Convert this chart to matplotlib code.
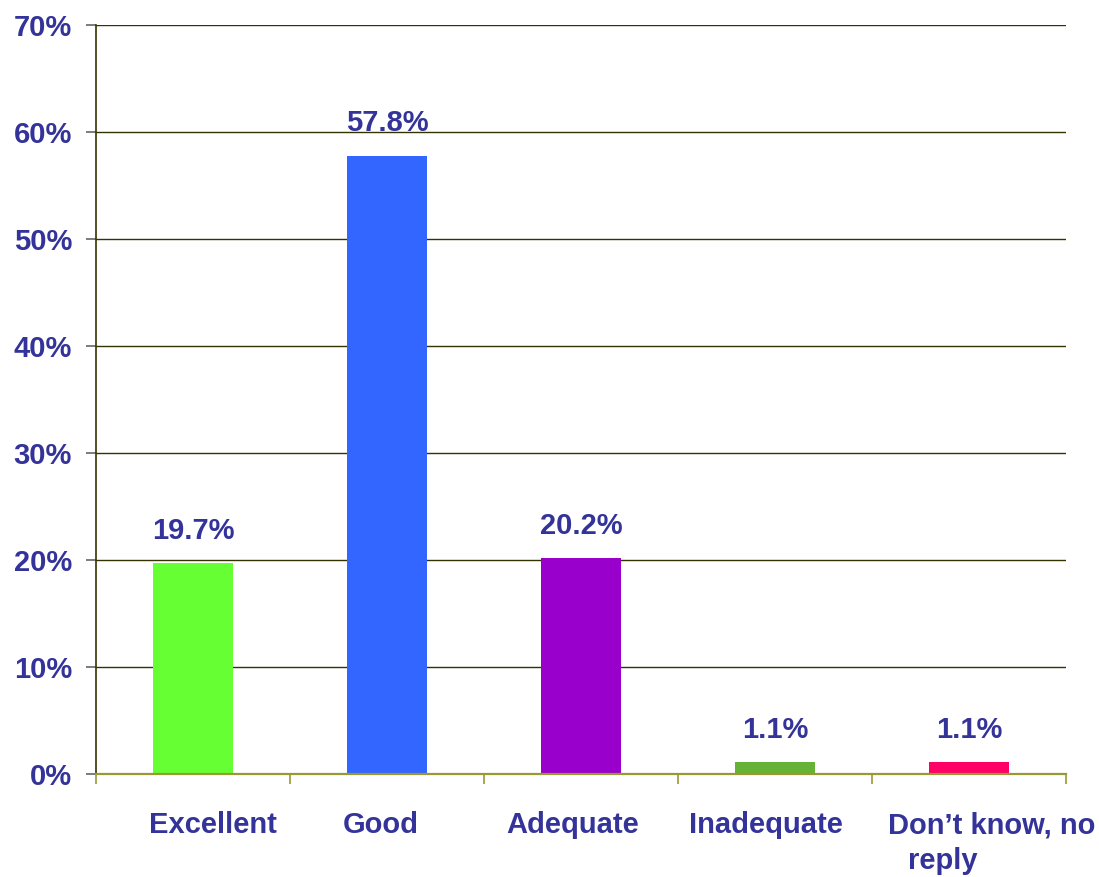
import matplotlib
matplotlib.use("Agg")
import matplotlib.pyplot as plt
from matplotlib.ticker import FixedLocator, PercentFormatter

categories = ["Excellent", "Good", "Adequate", "Inadequate", "Don\u2019t know, no\nreply"]
values = [19.7, 57.8, 20.2, 1.1, 1.1]
labels = ["19.7%", "57.8%", "20.2%", "1.1%", "1.1%"]
colors = ["#66ff33", "#3366ff", "#9900cc", "#66b236", "#ff0066"]
yticks = [0, 10, 20, 30, 40, 50, 60, 70]

txt = "#333399"
plt.rcParams['font.family'] = ['Liberation Sans', 'DejaVu Sans']
fs = 21

fig = plt.figure(figsize=(10.99, 8.77), dpi=100)
ax = fig.add_axes([96/1099, 1 - 774/877, 970/1099, (774-25)/877])

x = list(range(len(categories)))
ax.bar(x, values, width=0.41, color=colors, zorder=3)
for xi, v, l in zip(x, values, labels):
    ax.annotate(l, (xi, v), xytext=(0, 13), textcoords="offset points",
                ha="center", va="bottom", fontsize=fs, fontweight="bold", color=txt)

ax.set_xlim(-0.5, len(categories) - 0.5)
ax.set_ylim(0, 70)
ax.yaxis.set_major_locator(FixedLocator(yticks))
ax.yaxis.set_major_formatter(PercentFormatter(decimals=0))
ax.grid(axis="y", color="#333300", linewidth=1.0, zorder=0)
ax.set_axisbelow(True)

# category labels (Excel-style placement: per-label horizontal shifts, in px)
ax.set_xticks([])
shift_px = [[19.5], [-6.5], [-8], [-9.5], [22.5, -26]]
line_px = [59, 95]
for xi, cat, shifts in zip(x, categories, shift_px):
    for j, line in enumerate(cat.split("\n")):
        ax.annotate(line, (xi, 0), xycoords=("data", "axes fraction"),
                    xytext=(shifts[j] * 0.72, -line_px[j] * 0.72), textcoords="offset points",
                    ha="center", va="baseline", fontsize=fs, fontweight="bold",
                    color=txt, annotation_clip=False)

ax.set_xticks([i - 0.5 for i in range(len(categories) + 1)], minor=True)
ax.tick_params(axis="x", which="minor", length=7.2, color="#999933", width=1.2, direction="out")

ax.tick_params(axis="y", length=7.2, color="#666666", width=1.2, labelsize=fs,
               labelcolor=txt, pad=10)
for t in ax.get_yticklabels():
    t.set_fontweight("bold")

ax.spines["top"].set_visible(False)
ax.spines["right"].set_visible(False)
ax.spines["left"].set_color("#333300")
ax.spines["left"].set_linewidth(1.2)
ax.spines["bottom"].set_color("#999933")
ax.spines["bottom"].set_linewidth(1.6)
ax.spines["bottom"].set_zorder(4)

fig.savefig("out.png", dpi=100, facecolor="white")
